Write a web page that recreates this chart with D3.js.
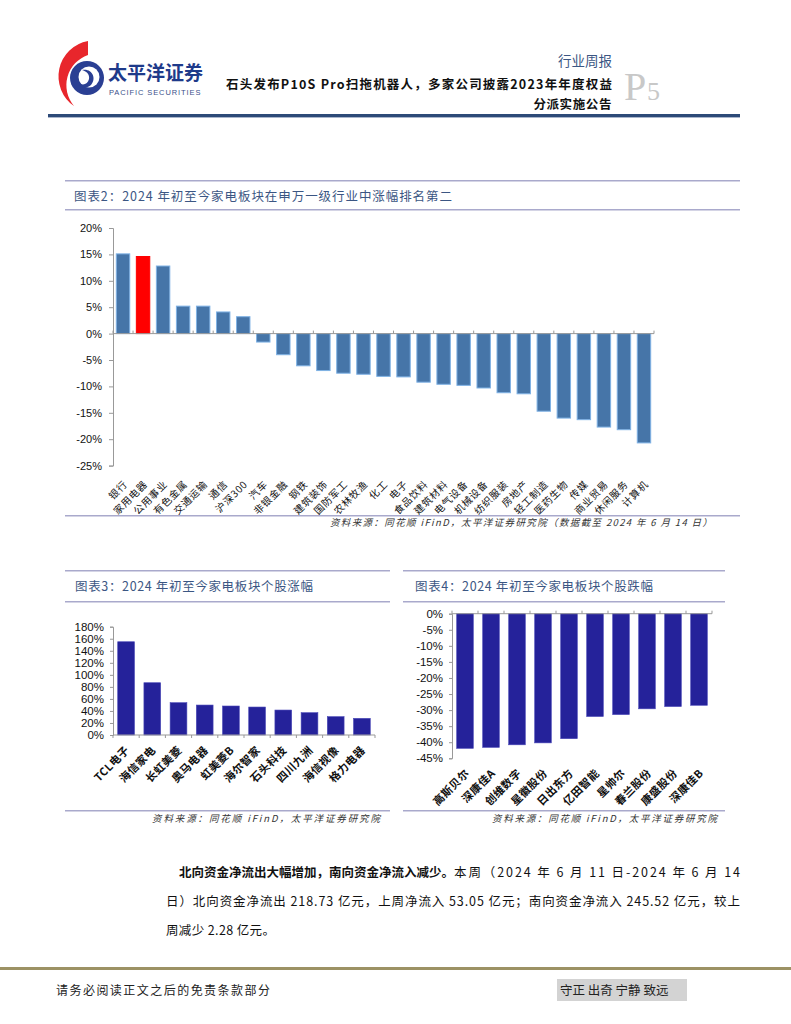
<!DOCTYPE html>
<html><head><meta charset="utf-8">
<script src="https://cdn.jsdelivr.net/npm/d3@7"></script>
<style>
body{margin:0;background:#fff;}
svg{display:block;font-family:"Noto Sans CJK SC","Noto Sans",sans-serif;}
</style></head>
<body>
<svg id="page" width="791" height="1024"></svg>
<script>
// ---------- data ----------
const industryNames = ["银行","家用电器","公用事业","有色金属","交通运输","通信","沪深300","汽车","非银金融","钢铁","建筑装饰","国防军工","农林牧渔","化工","电子","食品饮料","建筑材料","电气设备","机械设备","纺织服装","房地产","轻工制造","医药生物","传媒","商业贸易","休闲服务","计算机"];
const industryValues = [15.1,14.6,12.8,5.2,5.2,4.1,3.2,-1.6,-4.0,-6.1,-7.0,-7.5,-7.7,-8.1,-8.2,-9.2,-9.6,-9.8,-10.3,-11.2,-11.4,-14.7,-16.0,-16.3,-17.7,-18.2,-20.7];
const industryTicks = [20,15,10,5,0,-5,-10,-15,-20,-25];
const highlightName = "家用电器";

const gainNames = ["TCL电子","海信家电","长虹美菱","奥马电器","虹美菱B","海尔智家","石头科技","四川九洲","海信视像","格力电器"];
const gainValues = [155,86.9,53.7,49.8,48.2,46.5,41.5,37.1,30.5,27.7];
const gainTicks = [0,20,40,60,80,100,120,140,160,180];

const lossNames = ["高斯贝尔","深康佳A","创维数字","星徽股份","日出东方","亿田智能","星帅尔","春兰股份","康盛股份","深康佳B"];
const lossValues = [-41.9,-41.6,-40.8,-40.2,-38.9,-32.0,-31.4,-29.6,-28.9,-28.5];
const lossTicks = [0,-5,-10,-15,-20,-25,-30,-35,-40,-45];

const svg = d3.select("#page");
const titleColor = "#3b5683";
const ruleColor = "#a9a9cc";
const axisColor = "#999";

// ---------- header ----------
const logo = svg.append("g");
logo.append("path")
  .attr("d","M88,41 A36,36 0 0 0 74,106 A32,32 0 0 1 88,55 Z")
  .attr("fill","#e8262c");
logo.append("circle").attr("cx",87).attr("cy",78).attr("r",17).attr("fill","#2a3f93");
logo.append("circle").attr("cx",89).attr("cy",77).attr("r",10.5).attr("fill","#fff");
logo.append("path").attr("d","M82,70 C92,68 97,78 91,85 C87,89 80,88 79,83 C83,86 88,84 89,79 C90,74 86,71 82,70 Z").attr("fill","#2a3f93");
svg.append("text").attr("x",108).attr("y",80).attr("font-size",19).attr("font-weight","bold")
  .attr("fill","#1e3a8a").text("太平洋证券");
svg.append("text").attr("x",109).attr("y",95).attr("font-size",7.5).attr("letter-spacing",0.9)
  .attr("fill","#3a4f8a").attr("font-family","Liberation Sans, Arial").text("PACIFIC SECURITIES");

svg.append("text").attr("x",612).attr("y",66).attr("text-anchor","end").attr("font-size",13.5)
  .attr("fill",titleColor).text("行业周报");
svg.append("text").attr("x",226).attr("y",89).attr("font-size",12.5).attr("font-weight","bold")
  .attr("textLength",386).attr("lengthAdjust","spacing")
  .attr("fill","#111").text("石头发布P10S Pro扫拖机器人，多家公司披露2023年年度权益");
svg.append("text").attr("x",612).attr("y",109).attr("text-anchor","end").attr("font-size",12.5).attr("font-weight","bold")
  .attr("letter-spacing",0.6).attr("fill","#111").text("分派实施公告");
svg.append("text").attr("x",624).attr("y",100).attr("font-size",40).attr("fill","#c8c8c8")
  .attr("font-family","Liberation Serif, serif").text("P");
svg.append("text").attr("x",647).attr("y",100).attr("font-size",26).attr("fill","#c8c8c8")
  .attr("font-family","Liberation Serif, serif").text("5");
svg.append("rect").attr("x",48).attr("y",114).attr("width",692).attr("height",3).attr("fill","#2d4a78");
svg.append("rect").attr("x",48).attr("y",117).attr("width",692).attr("height",1).attr("fill","#aab6cc");

function rule(x1,x2,y){
  svg.append("rect").attr("x",x1).attr("y",y).attr("width",x2-x1).attr("height",1.5).attr("fill",ruleColor);
}
function chartTitle(x,y,t,len){
  svg.append("text").attr("x",x).attr("y",y).attr("font-size",12.5).attr("fill",titleColor)
    .attr("textLength",len).attr("lengthAdjust","spacing").text(t);
}
function source(xEnd,y,t,len){
  svg.append("text").attr("x",xEnd-len).attr("y",y).attr("font-size",9.5)
    .attr("textLength",len).attr("lengthAdjust","spacing")
    .attr("font-style","italic").attr("fill","#333").text(t);
}

// ---------- chart 2 ----------
rule(65,740,180);
chartTitle(74,201,"图表2：2024 年初至今家电板块在申万一级行业中涨幅排名第二",378);
rule(65,740,209);

const y2 = d3.scaleLinear().domain([-25,20]).range([465.6,228]);
const x2 = d3.scaleBand().domain(industryNames).range([113,654]).paddingInner(0.33).paddingOuter(0.165);
const g2 = svg.append("g");
g2.append("g").attr("transform","translate(113,0)")
  .call(d3.axisLeft(y2).tickValues(industryTicks).tickSize(4).tickFormat(d=>d+"%"))
  .call(g=>{g.selectAll("path,line").attr("stroke",axisColor);
    g.selectAll("text").attr("font-family","Liberation Sans, Arial").attr("font-size",11).attr("fill","#111").attr("dx",-4);});
g2.selectAll("rect.bar").data(industryNames).join("rect").attr("class","bar")
  .attr("x",d=>x2(d)).attr("width",x2.bandwidth())
  .attr("y",(d,i)=>y2(Math.max(0,industryValues[i])))
  .attr("height",(d,i)=>Math.abs(y2(industryValues[i])-y2(0)))
  .attr("fill",d=>d===highlightName?"#ff0000":"#4675a8")
  .attr("stroke",d=>d===highlightName?"#ff0000":"#7fb2e5").attr("stroke-width",1);
g2.append("line").attr("x1",113).attr("x2",654).attr("y1",y2(0)).attr("y2",y2(0)).attr("stroke",axisColor);
g2.selectAll("line.tk").data(d3.range(industryNames.length+1)).join("line").attr("class","tk")
  .attr("x1",i=>113+i*x2.step()).attr("x2",i=>113+i*x2.step())
  .attr("y1",y2(0)-3).attr("y2",y2(0)).attr("stroke",axisColor);
g2.selectAll("text.lab").data(industryNames).join("text").attr("class","lab")
  .attr("transform",d=>`translate(${x2(d)+x2.bandwidth()/2+5},485) rotate(-45)`)
  .attr("text-anchor","end").attr("font-size",10).attr("letter-spacing",0.7).attr("fill","#111").text(d=>d);

rule(65,740,515);
source(712,526,"资料来源：同花顺 iFinD，太平洋证券研究院（数据截至 2024 年 6 月 14 日）",382);

// ---------- chart 3 ----------
rule(65,390,570);
chartTitle(75,591,"图表3：2024 年初至今家电板块个股涨幅",238);
rule(65,390,601);
const y3 = d3.scaleLinear().domain([0,180]).range([735,626.7]);
const x3 = d3.scaleBand().domain(gainNames).range([113,375]).paddingInner(0.36).paddingOuter(0.18);
const g3 = svg.append("g");
g3.append("g").attr("transform","translate(113,0)")
  .call(d3.axisLeft(y3).tickValues(gainTicks).tickSize(3).tickFormat(d=>d+"%"))
  .call(g=>{g.selectAll("path,line").attr("stroke",axisColor);
    g.selectAll("text").attr("font-family","Liberation Sans, Arial").attr("font-size",11.5).attr("fill","#111").attr("dx",-3);});
g3.selectAll("rect.bar").data(gainNames).join("rect").attr("class","bar")
  .attr("x",d=>x3(d)).attr("width",x3.bandwidth())
  .attr("y",(d,i)=>y3(gainValues[i])).attr("height",(d,i)=>y3(0)-y3(gainValues[i]))
  .attr("fill","#25229a").attr("stroke","#4a48b8").attr("stroke-width",0.6);
g3.append("line").attr("x1",113).attr("x2",375).attr("y1",y3(0)).attr("y2",y3(0)).attr("stroke",axisColor);
g3.selectAll("line.tk").data(d3.range(gainNames.length+1)).join("line").attr("class","tk")
  .attr("x1",i=>113+i*x3.step()).attr("x2",i=>113+i*x3.step())
  .attr("y1",y3(0)).attr("y2",y3(0)+3).attr("stroke",axisColor);
g3.selectAll("text.lab").data(gainNames).join("text").attr("class","lab")
  .attr("transform",d=>`translate(${x3(d)+x3.bandwidth()/2+4},751) rotate(-45)`)
  .attr("text-anchor","end").attr("font-size",11).attr("font-weight","bold").attr("letter-spacing",0.4).attr("fill","#111").text(d=>d);
rule(65,390,810);
source(380,822,"资料来源：同花顺 iFinD，太平洋证券研究院",228);

// ---------- chart 4 ----------
rule(403,725,570);
chartTitle(415,591,"图表4：2024 年初至今家电板块个股跌幅",238);
rule(403,725,601);
const y4 = d3.scaleLinear().domain([-45,0]).range([758.3,613.7]);
const x4 = d3.scaleBand().domain(lossNames).range([452,712]).paddingInner(0.36).paddingOuter(0.18);
const g4 = svg.append("g");
g4.append("g").attr("transform","translate(452,0)")
  .call(d3.axisLeft(y4).tickValues(lossTicks).tickSize(3).tickFormat(d=>d+"%"))
  .call(g=>{g.selectAll("path,line").attr("stroke",axisColor);
    g.selectAll("text").attr("font-family","Liberation Sans, Arial").attr("font-size",11.5).attr("fill","#111").attr("dx",-3);});
g4.selectAll("rect.bar").data(lossNames).join("rect").attr("class","bar")
  .attr("x",d=>x4(d)).attr("width",x4.bandwidth())
  .attr("y",y4(0)).attr("height",(d,i)=>y4(lossValues[i])-y4(0))
  .attr("fill","#25229a").attr("stroke","#4a48b8").attr("stroke-width",0.6);
g4.append("line").attr("x1",452).attr("x2",712).attr("y1",y4(0)).attr("y2",y4(0)).attr("stroke",axisColor);
g4.selectAll("line.tk").data(d3.range(lossNames.length+1)).join("line").attr("class","tk")
  .attr("x1",i=>452+i*x4.step()).attr("x2",i=>452+i*x4.step())
  .attr("y1",y4(0)-3).attr("y2",y4(0)).attr("stroke",axisColor);
g4.selectAll("text.lab").data(lossNames).join("text").attr("class","lab")
  .attr("transform",d=>`translate(${x4(d)+x4.bandwidth()/2+5},774) rotate(-45)`)
  .attr("text-anchor","end").attr("font-size",11).attr("font-weight","bold").attr("letter-spacing",0.4).attr("fill","#111").text(d=>d);
rule(403,725,810);
source(717,822,"资料来源：同花顺 iFinD，太平洋证券研究院",225);

// ---------- body text ----------
const para = svg.append("g").attr("font-size",12.5).attr("fill","#111");
para.append("text").attr("x",179).attr("y",877).attr("font-weight","bold").text("北向资金净流出大幅增加，南向资金净流入减少。");
para.append("text").attr("x",454).attr("y",877).attr("textLength",286).attr("lengthAdjust","spacing")
  .text("本周（2024 年 6 月 11 日-2024 年 6 月 14");
para.append("text").attr("x",166).attr("y",906).attr("textLength",574).attr("lengthAdjust","spacing")
  .text("日）北向资金净流出 218.73 亿元，上周净流入 53.05 亿元；南向资金净流入 245.52 亿元，较上");
para.append("text").attr("x",166).attr("y",935).attr("textLength",109).attr("lengthAdjust","spacing").text("周减少 2.28 亿元。");

// ---------- footer ----------
svg.append("rect").attr("x",0).attr("y",967).attr("width",791).attr("height",3).attr("fill","#9c9264");
svg.append("text").attr("x",56).attr("y",995).attr("font-size",12).attr("textLength",214).attr("lengthAdjust","spacing")
  .attr("fill","#222").text("请务必阅读正文之后的免责条款部分");
svg.append("rect").attr("x",557).attr("y",979).attr("width",130).attr("height",22).attr("fill","#d3d3d3");
svg.append("text").attr("x",560).attr("y",995).attr("font-size",12.5).attr("fill","#222").text("守正 出奇 宁静 致远");
</script>
</body></html>
